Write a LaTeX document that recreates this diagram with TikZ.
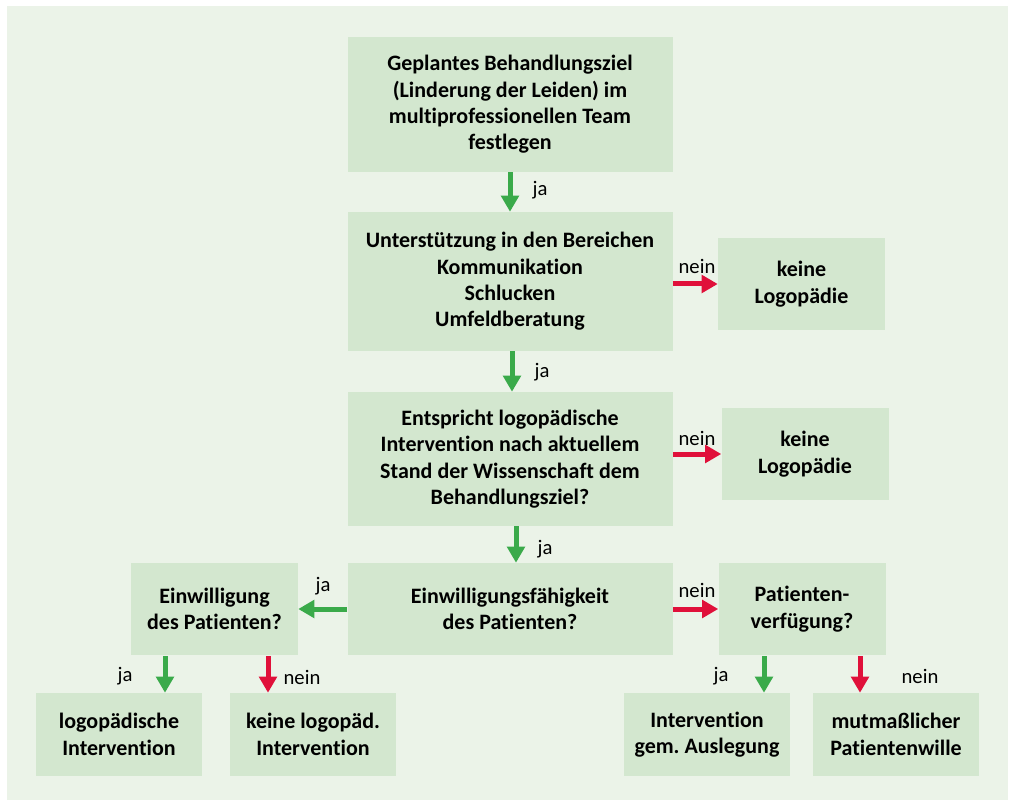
\documentclass[tikz,border=0pt]{standalone}
\usepackage{fontspec}
\setmainfont{Carlito}[Ligatures=NoCommon]
\usepackage{tikz}
\usetikzlibrary{arrows.meta}
\definecolor{panelgreen}{HTML}{EBF3E8}
\definecolor{boxgreen}{HTML}{D3E7CF}
\definecolor{jagreen}{HTML}{3AAA4A}
\definecolor{neinred}{HTML}{E0103A}
\frenchspacing
\tikzset{
  flowbox/.style={fill=boxgreen, align=center, font=\bfseries\fontsize{16.5}{19.8}\selectfont, inner sep=0pt},
  bigbox/.style={flowbox, minimum width=243.75pt},
  smallbox/.style={flowbox, minimum width=125.25pt, minimum height=69pt},
  endbox/.style={flowbox, minimum width=124.5pt, minimum height=62.25pt},
  decision/.style={line width=3.75pt, -{Triangle[width=13pt,length=12pt]}, shorten >=0pt},
  yesarrow/.style={decision, draw=jagreen},
  noarrow/.style={decision, draw=neinred},
  answer/.style={font=\fontsize{15.5}{18}\selectfont, inner sep=0pt}
}

\begin{document}
\begin{tikzpicture}[x=0.75pt, y=-0.75pt]
 \useasboundingbox (0,0) rectangle (1014,802);
 \fill[panelgreen] (7,6) rectangle (1008,800);

 % main column
 \node[bigbox, minimum height=101.25pt] (ziel) at (510,104.5)
   {Geplantes Behandlungsziel\\(Linderung der Leiden) im\\multiprofessionellen Team\\festlegen};
 \node[bigbox, minimum height=104.25pt] (unterst) at (510,281.5)
   {Unterstützung in den Bereichen\\Kommunikation\\Schlucken\\Umfeldberatung};
 \node[bigbox, minimum height=100.5pt] (entspricht) at (510,459)
   {Entspricht logopädische\\Intervention nach aktuellem\\Stand der Wissenschaft dem\\Behandlungsziel?};
 \node[bigbox, minimum height=69pt] (faehig) at (510,609)
   {Einwilligungsfähigkeit\\des Patienten?};

 % side boxes
 \node[smallbox] (keine1) at (801.5,284) {keine\\Logopädie};
 \node[smallbox] (keine2) at (805,454) {keine\\Logopädie};
 \node[smallbox] (einw) at (214.5,609) {Einwilligung\\des Patienten?};
 \node[smallbox] (verf) at (802,609) {Patienten-\\verfügung?};

 % bottom row
 \node[endbox] (logo) at (119,734.5) {logopädische\\Intervention};
 \node[endbox] (keinelogo) at (313,734.5) {keine logopäd.\\Intervention};
 \node[endbox] (gem) at (707,734.5) {Intervention\\gem. Auslegung};
 \node[endbox] (mutm) at (896,734.5) {mutmaßlicher\\Patientenwille};

 % connectors
 \draw[yesarrow] (ziel.south) -- (unterst.north);
 \node[answer] at (540,190) {ja};
 \draw[yesarrow] ([xshift=1.5pt]unterst.south) -- ([xshift=1.5pt]entspricht.north);
 \node[answer] at (542,372) {ja};
 \draw[yesarrow] ([xshift=4.5pt]entspricht.south) -- ([xshift=4.5pt]faehig.north);
 \node[answer] at (545,549) {ja};

 \draw[noarrow] (unterst.east |- keine1) -- (keine1.west);
 \node[answer] at (697,266) {nein};
 \draw[noarrow] (entspricht.east |- keine2) -- (keine2.west);
 \node[answer] at (697,438) {nein};

 \draw[yesarrow] (faehig.west) -- (einw.east);
 \node[answer] at (323,586) {ja};
 \draw[noarrow] (faehig.east) -- (verf.west);
 \node[answer] at (697,590) {nein};

 \coordinate (einwja) at (165,656);
 \coordinate (einwnein) at (268,656);
 \draw[yesarrow] (einwja) -- (einwja |- logo.north);
 \node[answer] at (125,676) {ja};
 \draw[noarrow] (einwnein) -- (einwnein |- keinelogo.north);
 \node[answer] at (302,677) {nein};

 \coordinate (verfja) at (764,656);
 \coordinate (verfnein) at (860,656);
 \draw[yesarrow] (verfja) -- (verfja |- gem.north);
 \node[answer] at (721,676) {ja};
 \draw[noarrow] (verfnein) -- (verfnein |- mutm.north);
 \node[answer] at (920,676) {nein};
\end{tikzpicture}
\end{document}
